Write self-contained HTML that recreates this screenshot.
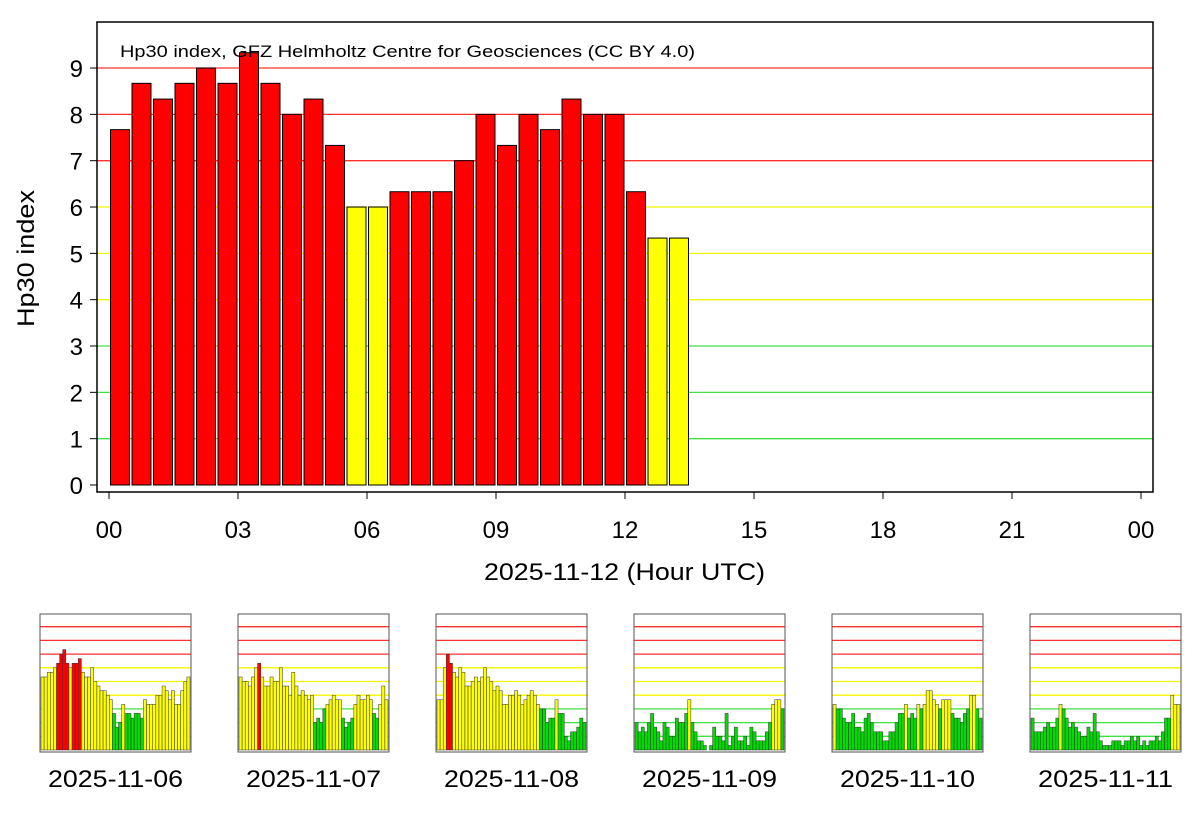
<!DOCTYPE html>
<html><head><meta charset="utf-8"><style>
html,body{margin:0;padding:0;background:#fff;}
svg{display:block;font-family:"Liberation Sans",sans-serif;}
</style></head><body>
<svg id="s" width="1200" height="840" viewBox="0 0 1200 840" xmlns="http://www.w3.org/2000/svg"></svg>
<script>
const s=document.getElementById('s');
let h='';
function col(v){return v>6.1?'#ff0000':(v>3.1?'#ffff00':'#00dd00');}
function gcol(k){return k>=7?'#ff3030':(k>=4?'#f4f400':'#40e040');}
const L=97,R=1153,T=22,B=492,y0=485,u=46.33;
h+=`<rect x="${L}" y="${T}" width="${R-L}" height="${B-T}" fill="#fff"/>`;
for(let k=1;k<=9;k++){const y=y0-k*u;h+=`<line x1="${L}" x2="${R}" y1="${y}" y2="${y}" stroke="${gcol(k)}" stroke-width="1.3"/>`;}
const mv=[7.67,8.67,8.33,8.67,9,8.67,9.33,8.67,8,8.33,7.33,6,6,6.33,6.33,6.33,7,8,7.33,8,7.67,8.33,8,8,6.33,5.33,5.33];
mv.forEach((v,i)=>{const x=109+i*21.5+1.5;h+=`<rect x="${x}" y="${y0-v*u}" width="19" height="${v*u}" fill="${col(v)}" stroke="#000" stroke-width="1"/>`;});
h+=`<rect x="${L}" y="${T}" width="${R-L}" height="${B-T}" fill="none" stroke="#000" stroke-width="1.5"/>`;
for(let k=0;k<=9;k++){const y=y0-k*u;h+=`<line x1="${L-7}" x2="${L}" y1="${y}" y2="${y}" stroke="#000"/><text x="${83}" y="${y+9}" font-size="24" text-anchor="end">${k}</text>`;}
const xl=['00','03','06','09','12','15','18','21','00'];
xl.forEach((t,i)=>{const x=109+i*129;h+=`<line x1="${x}" x2="${x}" y1="${B}" y2="${B+7}" stroke="#000"/><text x="${x}" y="${538}" font-size="24" text-anchor="middle">${t}</text>`;});
h+=`<text x="484" y="580" font-size="24" textLength="281" lengthAdjust="spacingAndGlyphs">2025-11-12 (Hour UTC)</text>`;
h+=`<text transform="translate(34,327) rotate(-90)" font-size="24" textLength="137" lengthAdjust="spacingAndGlyphs">Hp30 index</text>`;
h+=`<text x="120" y="57" font-size="17" textLength="575" lengthAdjust="spacingAndGlyphs">Hp30 index, GFZ Helmholtz Centre for Geosciences (CC BY 4.0)</text>`;
const P=[
[5.33,5.33,5.67,5.67,6,6.33,7,7.33,6.33,6,6.33,6.33,6.67,5.67,5.33,5.33,6,5,4.67,4.33,4.33,4,3.67,2.67,1.67,2,3.33,2.67,2.67,2.33,2.67,2.67,2.33,3.67,3.33,3.33,3.33,4,4,4.67,4.33,3.67,4.33,3.33,3.33,4.33,5,5.33],
[5.33,5,5,4.67,5.33,6,6.33,5.33,4.67,4.67,5.33,5,5,6,4.67,4.67,4,5.67,4.67,4,4.33,4,3.67,4,2,2.33,2,3,3.33,3.67,4,3.67,3.67,2.33,1.67,2,2.33,3.33,4,3.67,3.67,4,3.67,2.67,2.33,3.33,4.67,3.67],
[3.67,3.67,6,7,6.33,5.67,5.33,6,5.67,4.67,4.67,5,5.33,5,5.33,6,5.33,5,4.33,4.67,4.33,3.33,3.33,4,4,4.33,4,3.33,3.67,4,4.33,4,3.33,3,3,2,2.33,2.33,3.67,2.67,2.67,1,0.67,1.33,1.33,1.67,2.33,2],
[2,1.33,1.67,1.33,2,2.67,1.67,1.33,0.67,2,1.67,1,1,2.33,2,2,2.67,3.67,2,1.33,0.67,0.67,0.33,0,0.33,1.67,1,1,0.67,2.67,0.33,1,1.67,0.67,0.67,1,0.33,1.67,1.33,0.67,0.67,0.67,1.33,2,3.33,3.67,3.67,3],
[3.33,3,3,2.33,2,2,2.67,1.67,1.67,1.33,2.33,2.67,2,1.33,1.33,1.33,0.67,0.67,1.33,1.33,2,2.67,2.67,3.33,2.33,2.67,2.33,3.33,3,3.33,4.33,4.33,3.67,3.33,3,3.67,3.67,3.67,2.67,2.33,2.33,2,2.67,3,4,4,3,2.33],
[2.33,1.33,1.33,1.33,1.67,2,1.67,1.67,2.33,3.33,3,2.33,1.67,2,1.67,1.33,1,1,1.67,1.33,2.67,1.33,0.67,0.33,0.33,0.33,0.67,0.67,0.67,0.33,0.67,0.67,1,0.67,1,0.33,0.67,0.33,0.67,0.67,1,0.67,1.33,2.33,2.33,4,3.33,3.33]];
const dates=['2025-11-06','2025-11-07','2025-11-08','2025-11-09','2025-11-10','2025-11-11'];
P.forEach((arr,p)=>{
 const px=40+p*198,pw=151,pt=614,pb=752,z=750,su=13.7;
 h+=`<rect x="${px}" y="${pt}" width="${pw}" height="${pb-pt}" fill="#fff"/>`;
 for(let k=1;k<=9;k++){const y=z-k*su;h+=`<line x1="${px}" x2="${px+pw}" y1="${y}" y2="${y}" stroke="${gcol(k)}" stroke-width="1.3"/>`;}
 const bw=(pw-2)/48;
 arr.forEach((v,i)=>{if(v<=0)return;const x=px+1+i*bw;h+=`<rect x="${x}" y="${z-v*su}" width="${bw}" height="${v*su}" fill="${col(v)}" stroke="#333" stroke-width="0.5"/>`;});
 h+=`<rect x="${px}" y="${pt}" width="${pw}" height="${pb-pt}" fill="none" stroke="#555" stroke-width="1"/>`;
 h+=`<text x="${px+pw/2-67.5}" y="787" font-size="24" textLength="135" lengthAdjust="spacingAndGlyphs">${dates[p]}</text>`;
});
s.innerHTML=h;
</script>
</body></html>
